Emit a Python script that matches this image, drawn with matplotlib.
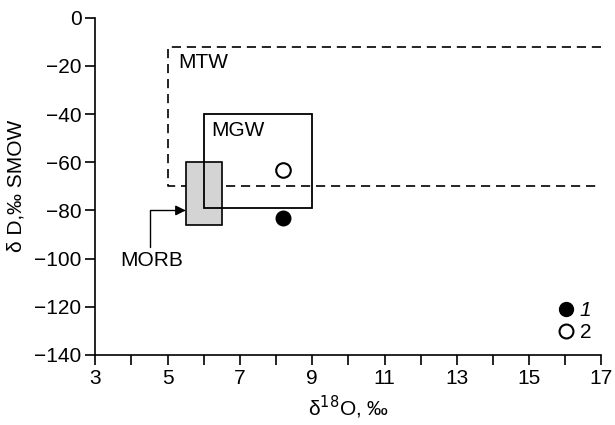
import matplotlib.pyplot as plt
from matplotlib.patches import Rectangle
from matplotlib.lines import Line2D

plt.rcParams['font.family'] = ['Liberation Sans', 'DejaVu Sans']

# field boxes: (x0, x1, y0, y1)
mtw = (5.0, 17.0, -70, -12)
mgw = (6.0, 9.0, -79, -40)
morb = (5.5, 6.5, -86, -60)

# samples
filled_x = [8.2]
filled_y = [-83]
open_x = [8.2]
open_y = [-63]

x_ticks = list(range(3, 18))
x_labels = [str(v) if v % 2 == 1 else '' for v in x_ticks]
y_ticks = list(range(-140, 1, 20))

fs = 15

fig = plt.figure(figsize=(6.15, 4.25), dpi=100)
ax = fig.add_axes([0.155, 0.165, 0.823, 0.793])

# MTW: dashed open box (left, top, bottom)
x0, x1, y0, y1 = mtw
ax.plot([x1, x0, x0, x1], [y1, y1, y0, y0], ls=(0, (5.5, 3.5)), color='black', lw=1.2)
ax.text(x0 + 0.3, y1 - 2.5, 'MTW', fontsize=fs, va='top', ha='left')

# MORB: grey filled box
x0, x1, y0, y1 = morb
ax.add_patch(Rectangle((x0, y0), x1 - x0, y1 - y0, facecolor='#d4d4d4',
                       edgecolor='black', lw=1.2, zorder=2))

# MGW: solid box
x0, x1, y0, y1 = mgw
ax.add_patch(Rectangle((x0, y0), x1 - x0, y1 - y0, facecolor='none',
                       edgecolor='black', lw=1.3, zorder=3))
ax.text(x0 + 0.2, y1 - 3, 'MGW', fontsize=fs, va='top', ha='left')

# MORB label and arrow
ax.annotate('', xy=(morb[0], -80), xytext=(4.5, -95),
            arrowprops=dict(arrowstyle='-|>', color='black', lw=1.0,
                            mutation_scale=15,
                            connectionstyle='angle,angleA=90,angleB=0,rad=0',
                            shrinkA=0, shrinkB=0))
ax.text(4.55, -97, 'MORB', fontsize=fs, ha='center', va='top')

# points
ax.scatter(filled_x, filled_y, s=110, color='black', zorder=4)
ax.scatter(open_x, open_y, s=110, facecolor='white', edgecolor='black',
           lw=1.5, zorder=4)

handles = [Line2D([], [], ls='none', marker='o', ms=10, color='black'),
           Line2D([], [], ls='none', marker='o', ms=10, mfc='white',
                  mec='black', mew=1.5)]
leg = ax.legend(handles, ['1', '2'], loc='lower right', frameon=False,
                fontsize=fs, handlelength=0.6, handletextpad=0.35,
                labelspacing=0.15, bbox_to_anchor=(1.005, 0.0), borderaxespad=0.2)
leg.get_texts()[0].set_style('italic')

ax.set_xlim(3, 17)
ax.set_ylim(-140, 0)
ax.set_xticks(x_ticks)
ax.set_xticklabels(x_labels)
ax.set_yticks(y_ticks)
ax.set_yticklabels([str(v).replace('-', '\u2212') for v in y_ticks])
ax.tick_params(labelsize=fs, length=7, width=1.2, direction='out', pad=3)
ax.spines['top'].set_visible(False)
ax.spines['right'].set_visible(False)
ax.spines['left'].set_linewidth(1.2)
ax.spines['bottom'].set_linewidth(1.2)

ax.set_xlabel('\u03b4$^{18}$O, \u2030', fontsize=fs, labelpad=4)
ax.set_ylabel('\u03b4 D,\u2030 SMOW', fontsize=fs, labelpad=6)

fig.savefig('out.png', dpi=100)
